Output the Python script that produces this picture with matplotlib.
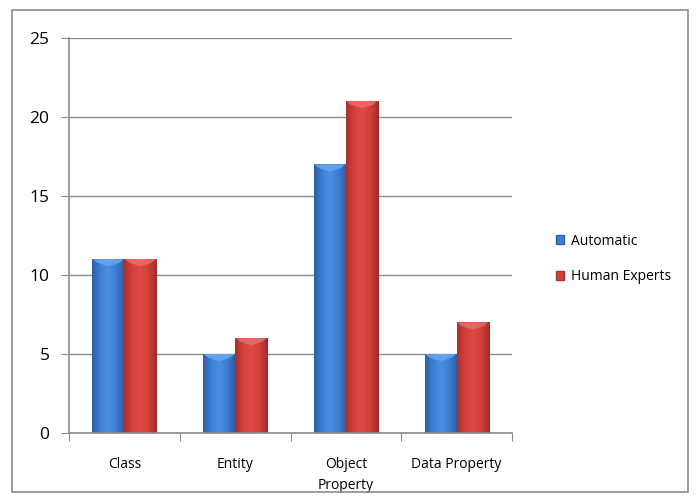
import numpy as np
import matplotlib.pyplot as plt
from matplotlib.patches import Rectangle, Polygon
from matplotlib.colors import LinearSegmentedColormap

# ── Data ────────────────────────────────────────────────────────────────────
categories = ["Class", "Entity", "Object\nProperty", "Data Property"]
automatic = [11, 5, 17, 5]
human_experts = [11, 6, 21, 7]
series_names = ["Automatic", "Human Experts"]

# ── Style ───────────────────────────────────────────────────────────────────
GRID_CLR = "#8c8c8c"
BLUE_CMAP = LinearSegmentedColormap.from_list(
    "blue_cyl", ["#2d5fa6", "#3f80d6", "#4a8ee2", "#3d7dd2", "#2b5a9e"])
RED_CMAP = LinearSegmentedColormap.from_list(
    "red_cyl", ["#a8302e", "#d4403c", "#e04a45", "#cf3e3a", "#9e2c2a"])
BLUE_FACE = "#3d7dd2"
RED_FACE = "#d23f3b"
BLUE_CAP = "#6aa6ef"
RED_CAP = "#ec6c66"

plt.rcParams.update({
    "font.family": ["Open Sans", "DejaVu Sans"],
    "text.color": "#000000",
})

fig = plt.figure(figsize=(7.0, 5.04), dpi=100)
fig.patch.set_facecolor("white")

# outer chart frame
fig.patches.append(Rectangle((12 / 700, 1 - 492 / 504), 676 / 700, 482 / 504,
                             transform=fig.transFigure, fill=False,
                             edgecolor="#8c8c8c", linewidth=1.2))

ax = fig.add_axes([69 / 700, 71 / 504, 443 / 700, 395 / 504])

x = np.arange(len(categories))
width = 0.29


def gradient_bars(xs, vals, cmap, face, cap):
    bars = ax.bar(xs, vals, width, color=face, edgecolor="none", zorder=3)
    grad = np.linspace(0, 1, 64).reshape(1, -1)
    d = 0.45
    for b in bars:
        x0, y0 = b.get_x(), b.get_y()
        w, h = b.get_width(), b.get_height()
        im = ax.imshow(grad, cmap=cmap, aspect="auto", zorder=4,
                       extent=[x0, x0 + w, y0, y0 + h], interpolation="bicubic")
        im.set_clip_path(b)
        # lighter bevel on the bar top
        top = y0 + h
        ax.add_patch(Polygon([(x0 + 0.02 * w, top), (x0 + 0.98 * w, top),
                              (x0 + 0.85 * w, top - d * 0.5),
                              (x0 + 0.5 * w, top - d),
                              (x0 + 0.15 * w, top - d * 0.5)],
                             closed=True, facecolor=cap, edgecolor="none",
                             alpha=0.85, zorder=5))
    return bars


gradient_bars(x - width / 2, automatic, BLUE_CMAP, BLUE_FACE, BLUE_CAP)
gradient_bars(x + width / 2, human_experts, RED_CMAP, RED_FACE, RED_CAP)

ax.set_xlim(-0.5, len(categories) - 0.5)
ax.set_ylim(0, 25)
ax.set_yticks(range(0, 26, 5))
ax.tick_params(axis="y", labelsize=12.5, length=6, color=GRID_CLR, pad=8)

ax.set_xticks(np.arange(-0.5, len(categories), 1.0))
ax.set_xticklabels([])
ax.set_xticks(x, minor=True)
ax.set_xticklabels(categories, minor=True, fontsize=10, linespacing=1.6)
ax.tick_params(axis="x", which="major", length=6, color=GRID_CLR)
ax.tick_params(axis="x", which="minor", length=0, pad=17)

ax.yaxis.grid(True, color=GRID_CLR, linewidth=1.0, zorder=0)
ax.set_axisbelow(True)
for side in ("top", "right"):
    ax.spines[side].set_visible(False)
for side in ("left", "bottom"):
    ax.spines[side].set_color(GRID_CLR)
    ax.spines[side].set_linewidth(1.2)
    ax.spines[side].set_zorder(6)

handles = [Rectangle((0, 0), 1, 1, facecolor=BLUE_FACE, edgecolor="#2d5fa6"),
           Rectangle((0, 0), 1, 1, facecolor=RED_FACE, edgecolor="#a8302e")]
fig.legend(handles, series_names, loc="center left",
           bbox_to_anchor=(543 / 700, 1 - 259 / 504), frameon=False,
           fontsize=10, handlelength=0.6, handleheight=0.6,
           handletextpad=0.5, labelspacing=1.5)

fig.savefig("out.png", dpi=100)
